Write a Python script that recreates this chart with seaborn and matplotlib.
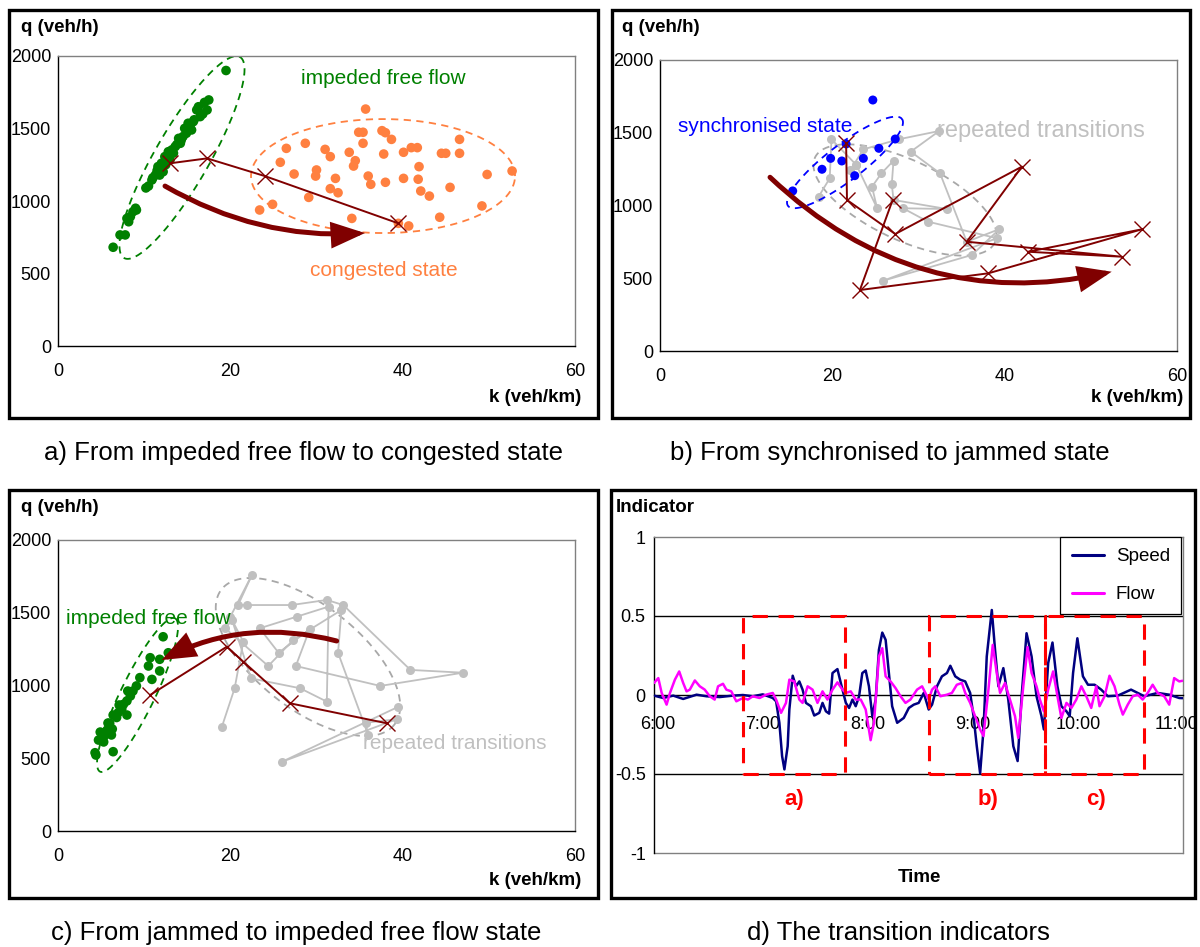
import numpy as np
import matplotlib
matplotlib.use("Agg")
import matplotlib.pyplot as plt
import seaborn as sns
from matplotlib.patches import Rectangle, FancyArrowPatch, ArrowStyle
from matplotlib.lines import Line2D
from matplotlib.transforms import ScaledTranslation

# ------------------------------------------------------------------ data
# panel a : impeded free flow -> congested
a_free_k = [19.5, 17.5, 17.3, 16.1, 16.5, 15.7, 15.1, 14.7, 15.5, 14.9,
            14.5, 14.0, 14.2, 13.6, 13.2, 12.8, 12.4, 13.0, 12.0, 11.6,
            12.2, 11.3, 11.8, 10.9, 10.5, 9.1, 8.7, 8.4, 8.2, 7.8,
            7.2, 6.4, 11.0, 11.5, 12.5, 12.9, 13.4, 13.8, 14.3, 15.3,
            15.8, 16.8, 16.3, 17.0, 10.2, 9.0, 8.0]
a_free_q = [1900, 1697, 1628, 1628, 1582, 1547, 1536, 1501, 1490, 1467,
            1444, 1432, 1398, 1375, 1352, 1340, 1306, 1283, 1260, 1237,
            1202, 1179, 1179, 1145, 1103, 938, 926, 892, 857, 766,
            766, 681, 1160, 1210, 1250, 1300, 1330, 1390, 1420, 1510,
            1560, 1600, 1650, 1680, 1090, 950, 880]
a_cong_k = [35.7, 34.9, 35.4, 37.6, 38.0, 38.7, 35.4, 46.6, 26.5, 28.7,
            31.0, 31.6, 33.8, 34.5, 34.3, 37.8, 40.1, 41.0, 41.7, 44.5,
            45.0, 46.6, 25.8, 27.4, 30.0, 29.9, 32.2, 36.0, 36.3, 38.0,
            40.1, 41.9, 41.8, 42.1, 43.1, 45.5, 49.8, 52.7, 31.6, 32.5,
            29.1, 24.9, 23.4, 34.1, 39.5, 40.7, 44.3, 49.2]
a_cong_q = [1634, 1474, 1474, 1485, 1471, 1425, 1398, 1425, 1363, 1398,
            1356, 1306, 1336, 1278, 1241, 1324, 1336, 1368, 1368, 1329,
            1329, 1329, 1267, 1186, 1214, 1172, 1156, 1172, 1115, 1129,
            1156, 1237, 1150, 1069, 1034, 1094, 1183, 1207, 1085, 1057,
            1025, 977, 938, 880, 846, 828, 888, 966]
a_trans_k = [13.0, 17.3, 24.0, 39.5]
a_trans_q = [1260, 1294, 1172, 846]

# panel b : synchronised -> jammed
b_sync_k = [24.7, 21.6, 19.8, 21.1, 18.8, 23.6, 25.4, 27.3, 22.6, 15.4]
b_sync_q = [1725, 1423, 1324, 1306, 1249, 1324, 1393, 1457, 1205, 1100]
b_rep_k = [18.4, 19.7, 19.9, 22.8, 22.1, 23.6, 27.7, 32.4, 29.1, 32.5,
           35.6, 39.4, 36.2, 25.9, 39.1, 31.1, 28.2, 33.3, 27.1, 26.9,
           27.1, 25.7, 24.6, 25.2, 22.8]
b_rep_q = [1060, 1187, 1455, 1278, 1244, 1386, 1455, 1512, 1370, 1221,
           751, 838, 660, 483, 775, 889, 981, 976, 1038, 1148,
           1308, 1221, 1129, 981, 1278]
b_trans_k = [21.6, 21.7, 27.3, 42.0, 35.6, 53.6, 42.7, 55.9, 38.1, 23.2, 27.0]
b_trans_q = [1430, 1038, 804, 1267, 751, 648, 682, 836, 534, 419, 1038]

# panel c : jammed -> impeded free flow
c_free_k = [12.2, 12.8, 11.8, 10.7, 10.5, 11.8, 10.9, 9.5, 9.1, 8.7,
            8.4, 8.0, 7.6, 7.4, 7.0, 6.8, 6.4, 6.0, 5.7, 5.3,
            4.7, 6.2, 6.4, 4.3, 4.4, 8.0, 8.1, 7.1, 5.8, 4.9,
            5.3, 6.3]
c_free_q = [1335, 1225, 1180, 1191, 1134, 1100, 1042, 1054, 997, 962,
            928, 894, 871, 838, 814, 780, 797, 740, 694, 648,
            625, 660, 545, 538, 522, 797, 962, 866, 742, 680,
            612, 701]
c_rep_k = [19.0, 20.5, 21.5, 20.0, 22.5, 20.9, 21.9, 27.1, 31.2, 33.1,
           40.9, 47.0, 37.4, 27.6, 29.2, 25.6, 23.4, 27.7, 31.4, 31.2,
           28.1, 22.4, 20.2, 19.4, 24.4, 27.3, 32.9, 32.5, 36.0, 35.7,
           39.3, 26.0, 39.5]
c_rep_q = [713, 981, 1301, 1473, 1759, 1553, 1553, 1553, 1588, 1553,
           1107, 1088, 997, 1134, 1386, 1225, 1393, 1473, 1542, 889,
           981, 1049, 1450, 1393, 1134, 1313, 1519, 1225, 660, 744,
           768, 476, 854]
c_trans_k = [38.2, 26.9, 21.5, 19.6, 10.7]
c_trans_q = [740, 878, 1164, 1267, 935]

# panel d : transition indicators (time in hours)
time_ticks = [6, 7, 8, 9, 10, 11]
time_labels = ["6:00", "7:00", "8:00", "9:00", "10:00", "11:00"]
ind_ticks = [-1, -0.5, 0, 0.5, 1]
ind_labels = ["-1", "-0.5", "0", "0.5", "1"]
speed_t = [5.962, 6.050, 6.145, 6.240, 6.367, 6.462, 6.588, 6.714, 6.809, 6.903,
           6.998, 7.093, 7.125, 7.156, 7.182, 7.204, 7.235, 7.251, 7.283, 7.314,
           7.346, 7.377, 7.409, 7.456, 7.488, 7.536, 7.567, 7.599, 7.630, 7.662,
           7.709, 7.741, 7.789, 7.820, 7.852, 7.883, 7.915, 7.946, 7.978, 8.009,
           8.041, 8.073, 8.104, 8.136, 8.168, 8.199, 8.230, 8.278, 8.341, 8.389,
           8.436, 8.483, 8.531, 8.578, 8.610, 8.657, 8.704, 8.752, 8.784, 8.831,
           8.878, 8.926, 8.973, 9.005, 9.036, 9.068, 9.100, 9.131, 9.179, 9.210,
           9.242, 9.289, 9.336, 9.384, 9.425, 9.463, 9.510, 9.558, 9.605, 9.652,
           9.675, 9.716, 9.757, 9.804, 9.842, 9.890, 9.921, 9.953, 9.994, 10.047,
           10.095, 10.158, 10.221, 10.284, 10.379, 10.505, 10.632, 10.758, 10.869, 10.964,
           10.995]
speed_v = [-0.004, -0.019, -0.004, -0.025, 0.002, -0.008, -0.013, -0.004, 0.000, -0.008,
           0.004, -0.019, -0.040, -0.176, -0.387, -0.471, -0.324, -0.092, 0.122, 0.055,
           0.086, 0.034, -0.050, -0.071, -0.130, -0.113, -0.050, -0.103, -0.118, 0.139,
           0.164, 0.076, -0.050, -0.082, -0.029, -0.071, -0.008, 0.139, 0.155, 0.055,
           -0.134, -0.029, 0.286, 0.395, 0.349, 0.139, -0.071, -0.176, -0.145, -0.082,
           -0.061, -0.050, 0.013, -0.092, -0.061, 0.055, 0.118, 0.139, 0.185, 0.118,
           0.097, 0.086, 0.013, -0.134, -0.324, -0.496, -0.218, 0.244, 0.538, 0.286,
           0.055, 0.170, -0.029, -0.324, -0.418, -0.008, 0.391, 0.244, -0.008, -0.134,
           -0.218, 0.202, 0.332, 0.055, -0.071, -0.103, -0.134, 0.139, 0.359, 0.118,
           0.065, 0.065, 0.034, -0.008, -0.004, 0.034, -0.008, 0.013, 0.002, -0.019,
           -0.020]
flow_t = [5.962, 6.003, 6.035, 6.082, 6.114, 6.161, 6.202, 6.240, 6.272, 6.303,
          6.351, 6.398, 6.445, 6.493, 6.540, 6.572, 6.619, 6.651, 6.698, 6.746,
          6.809, 6.856, 6.903, 6.967, 7.030, 7.093, 7.125, 7.172, 7.219, 7.251,
          7.298, 7.346, 7.377, 7.425, 7.472, 7.519, 7.567, 7.614, 7.662, 7.709,
          7.757, 7.789, 7.836, 7.883, 7.931, 7.978, 8.025, 8.057, 8.104, 8.136,
          8.168, 8.215, 8.262, 8.310, 8.357, 8.404, 8.467, 8.515, 8.578, 8.610,
          8.641, 8.689, 8.752, 8.799, 8.846, 8.894, 8.926, 8.973, 9.020, 9.068,
          9.100, 9.147, 9.188, 9.226, 9.258, 9.305, 9.352, 9.400, 9.431, 9.479,
          9.520, 9.558, 9.605, 9.637, 9.675, 9.716, 9.763, 9.810, 9.842, 9.890,
          9.937, 9.984, 10.032, 10.079, 10.126, 10.174, 10.205, 10.253, 10.300, 10.348,
          10.395, 10.427, 10.474, 10.521, 10.569, 10.616, 10.664, 10.711, 10.758, 10.821,
          10.869, 10.916, 10.964, 10.995]
flow_v = [0.076, 0.107, 0.013, -0.061, 0.013, 0.097, 0.149, 0.076, 0.023, 0.034,
          0.092, 0.055, 0.034, -0.008, -0.029, 0.055, 0.071, 0.034, 0.023, -0.040,
          -0.019, -0.029, -0.008, -0.019, 0.002, 0.013, -0.029, -0.113, -0.050, 0.097,
          0.086, -0.029, -0.050, 0.055, 0.034, -0.050, 0.023, -0.029, 0.034, 0.080,
          0.034, 0.013, 0.023, -0.029, -0.029, -0.092, -0.286, -0.176, 0.244, 0.296,
          0.118, 0.086, 0.044, -0.008, -0.050, -0.029, 0.034, 0.055, -0.029, 0.034,
          0.055, -0.008, 0.002, 0.013, 0.065, 0.076, 0.013, -0.050, -0.134, -0.218,
          -0.260, 0.034, 0.317, 0.139, 0.013, 0.076, -0.029, -0.134, -0.271, 0.055,
          0.303, 0.139, 0.055, -0.029, -0.103, 0.034, 0.149, -0.029, -0.145, -0.050,
          -0.082, -0.029, 0.055, -0.008, -0.082, 0.055, -0.071, -0.008, 0.122, 0.055,
          -0.061, -0.124, -0.061, -0.008, 0.002, -0.029, 0.013, 0.065, 0.013, -0.008,
          -0.061, 0.107, 0.086, 0.090]
box_starts = [6.81, 8.585, 9.685]
box_ends = [7.782, 9.685, 10.632]
box_labels = ["a)", "b)", "c)"]
box_label_t = [7.30, 9.147, 10.17]

# ------------------------------------------------------------------ style
sns.set_theme(style="white")
plt.rcParams["font.family"] = ["Liberation Sans", "DejaVu Sans"]
plt.rcParams["axes.unicode_minus"] = False
plt.rcParams["text.color"] = "black"
plt.rcParams["axes.labelcolor"] = "black"
plt.rcParams["xtick.color"] = "black"
plt.rcParams["ytick.color"] = "black"

W, H = 1200, 947
fig = plt.figure(figsize=(W / 100, H / 100), dpi=100)
fig.patch.set_facecolor("white")

MAROON = "#800000"
GREEN = "#008000"
ORANGE = "#FF8040"
BLUE = "#0000FF"
LGRAY = "#C0C0C0"
EGRAY = "#808080"


def px_axes(l, t, r, b):
    return fig.add_axes([l / W, 1 - b / H, (r - l) / W, (b - t) / H])


def ftext(x, y, s, **kw):
    fig.text(x / W, 1 - y / H, s, **kw)


def frame(x0, y0, x1, y1):
    fig.add_artist(Rectangle((x0 / W, 1 - y1 / H), (x1 - x0) / W, (y1 - y0) / H,
                             transform=fig.transFigure, fill=False,
                             lw=2.4, ec="black"))


def ellipse(ax, c, u, v, color, dashes=(4, 3)):
    t = np.linspace(0, 2 * np.pi, 300)
    xs = c[0] + np.cos(t) * u[0] + np.sin(t) * v[0]
    ys = c[1] + np.cos(t) * u[1] + np.sin(t) * v[1]
    ax.plot(xs, ys, color=color, lw=1.3, ls=(0, dashes), zorder=2)


def big_arrow(ax, start, end, rad):
    arr = FancyArrowPatch(start, end,
                          arrowstyle=ArrowStyle("-|>", head_length=18, head_width=7),
                          connectionstyle=f"arc3,rad={rad}", mutation_scale=1,
                          lw=3.6, color=MAROON, shrinkA=0, shrinkB=0, zorder=6,
                          joinstyle="miter")
    ax.add_patch(arr)


def kq_axes(ax):
    ax.set_xlim(0, 60)
    ax.set_ylim(0, 2000)
    ax.set_xticks([0, 20, 40, 60])
    ax.set_yticks([0, 500, 1000, 1500, 2000])
    ax.set_xlabel("")
    ax.set_ylabel("")
    for s in ["top", "right"]:
        ax.spines[s].set_color(EGRAY)
        ax.spines[s].set_linewidth(1.0)
    for s in ["left", "bottom"]:
        ax.spines[s].set_color("black")
        ax.spines[s].set_linewidth(1.0)
    ax.tick_params(axis="both", direction="out", length=4, width=1,
                   color="black", labelsize=13, labelcolor="black")
    ax.tick_params(axis="x", pad=8)
    ax.tick_params(axis="y", pad=1)
    ax.grid(False)
    ax.set_facecolor("white")


def dots(ax, k, q, color, size=48):
    sns.scatterplot(x=k, y=q, ax=ax, color=color, s=size, edgecolor="none",
                    linewidth=0, zorder=3, legend=False)


def path(ax, k, q, color, marker, ms, lw=1.2, z=4, mew=0):
    sns.lineplot(x=k, y=q, ax=ax, sort=False, estimator=None, color=color,
                 lw=lw, marker=marker, markersize=ms, markeredgewidth=mew,
                 markeredgecolor=color, zorder=z, legend=False)


# ------------------------------------------------------------------ panel a
ax_a = px_axes(58, 56, 575, 346)
ellipse(ax_a, (14.39, 1300), (6.73, 693), (2.72, -93), GREEN)
ellipse(ax_a, (37.72, 1172), (15.32, 0), (0, 393), ORANGE)
dots(ax_a, a_free_k, a_free_q, GREEN)
dots(ax_a, a_cong_k, a_cong_q, ORANGE)
path(ax_a, a_trans_k, a_trans_q, MAROON, "x", 11, lw=1.4, z=5, mew=1.0)
big_arrow(ax_a, (12.42, 1103), (35.63, 779), 0.15)
kq_axes(ax_a)

# ------------------------------------------------------------------ panel b
ax_b = px_axes(660, 60, 1177, 351)
ellipse(ax_b, (28.43, 1038), (10.44, -292), (-1.97, -247), "#A8A8A8")
path(ax_b, b_rep_k, b_rep_q, LGRAY, "o", 6.5, lw=1.3, z=2)
ellipse(ax_b, (21.47, 1296), (6.61, 299), (1.27, -98), BLUE)
dots(ax_b, b_sync_k, b_sync_q, BLUE, size=42)
path(ax_b, b_trans_k, b_trans_q, MAROON, "x", 11, lw=1.4, z=5, mew=1.0)
big_arrow(ax_b, (12.77, 1194), (52.42, 545), 0.265)
kq_axes(ax_b)

# ------------------------------------------------------------------ panel c
ax_c = px_axes(58, 540, 575, 831)
ellipse(ax_c, (29.01, 1196), (10.04, -464), (-3.71, -282), "#A8A8A8")
path(ax_c, c_rep_k, c_rep_q, LGRAY, "o", 6.5, lw=1.3, z=2)
ellipse(ax_c, (9.23, 935), (4.35, 527), (1.78, -51.5), GREEN)
dots(ax_c, c_free_k, c_free_q, GREEN)
path(ax_c, c_trans_k, c_trans_q, MAROON, "x", 11, lw=1.4, z=5, mew=1.0)
big_arrow(ax_c, (32.34, 1306), (12.03, 1175), 0.19)
kq_axes(ax_c)

# ------------------------------------------------------------------ panel d
ax_d = px_axes(654, 537, 1183, 853)
ax_d.set_xlim(5.962, 11.0)
ax_d.set_ylim(-1, 1)
for y in [0.5, -0.5]:
    ax_d.axhline(y, color="black", lw=1.0, zorder=1)
ax_d.axhline(-1, color=EGRAY, lw=1.0, zorder=1, clip_on=False)
sns.lineplot(x=speed_t, y=speed_v, ax=ax_d, color="#000080", lw=1.8,
             sort=False, estimator=None, zorder=4, legend=False)
sns.lineplot(x=flow_t, y=flow_v, ax=ax_d, color="#FF00FF", lw=1.8,
             sort=False, estimator=None, zorder=4, legend=False)
for x0, x1 in zip(box_starts, box_ends):
    ax_d.add_patch(Rectangle((x0, -0.5), x1 - x0, 1.0, fill=False, ec="#FF0000",
                             lw=2.2, ls=(0, (5, 3.5)), zorder=5))
for t, lab in zip(box_label_t, box_labels):
    ax_d.text(t, -0.66, lab, color="#FF0000", fontsize=16, fontweight="bold",
              ha="center", va="center")
ax_d.spines["bottom"].set_position(("data", 0))
ax_d.spines["bottom"].set_color("black")
ax_d.spines["left"].set_color("black")
for s in ["top", "right"]:
    ax_d.spines[s].set_color(EGRAY)
for s in ax_d.spines.values():
    s.set_linewidth(1.0)
ax_d.set_xticks(time_ticks)
ax_d.set_xticklabels(time_labels)
ax_d.set_yticks(ind_ticks)
ax_d.set_yticklabels(ind_labels)
ax_d.set_xlabel("")
ax_d.set_ylabel("")
ax_d.grid(False)
ax_d.tick_params(axis="both", direction="out", length=4, width=1, color="black",
                 labelsize=13, labelcolor="black")
ax_d.tick_params(axis="x", pad=11)
ax_d.tick_params(axis="y", pad=2)
lbls = ax_d.get_xticklabels()
lbls[-1].set_transform(lbls[-1].get_transform() +
                       ScaledTranslation(-0.07, 0, fig.dpi_scale_trans))
handles = [Line2D([], [], color="#000080", lw=2.2),
           Line2D([], [], color="#FF00FF", lw=2.2)]
leg = ax_d.legend(handles, ["Speed", "Flow"], loc="upper right",
                  bbox_to_anchor=(1181 / W, 1 - 537 / H),
                  bbox_transform=fig.transFigure, frameon=True, fancybox=False,
                  edgecolor="black", framealpha=1, borderaxespad=0,
                  fontsize=13.5, handlelength=1.75, labelspacing=1.1,
                  borderpad=0.6, handletextpad=0.6)
leg.get_frame().set_linewidth(0.9)
leg.set_zorder(10)

# ------------------------------------------------------------------ texts
ftext(383, 78, "impeded free flow", color=GREEN, fontsize=15, ha="center", va="center")
ftext(384, 271, "congested state", color=ORANGE, fontsize=15, ha="center", va="center")
ftext(765, 127, "synchronised state", color=BLUE, fontsize=15, ha="center", va="center")
ftext(1041, 131, "repeated transitions", color=LGRAY, fontsize=17, ha="center", va="center")
ftext(148, 618, "impeded free flow", color=GREEN, fontsize=15, ha="center", va="center")
ftext(455, 743, "repeated transitions", color=LGRAY, fontsize=15, ha="center", va="center")

for (x, y) in [(21, 27), (622, 27), (21, 507)]:
    ftext(x, y, "q (veh/h)", fontsize=13.5, fontweight="bold", ha="left", va="center")
for (x, y) in [(581, 397), (1183, 397), (581, 880)]:
    ftext(x, y, "k (veh/km)", fontsize=13.5, fontweight="bold", ha="right", va="center")
ftext(616, 507, "Indicator", fontsize=13.5, fontweight="bold", ha="left", va="center")
ftext(919, 877, "Time", fontsize=13.5, fontweight="bold", ha="center", va="center")

ftext(304, 453, "a) From impeded free flow to congested state", fontsize=18.5,
      ha="center", va="center")
ftext(890, 453, "b) From synchronised to jammed state", fontsize=18.5,
      ha="center", va="center")
ftext(296, 933, "c) From jammed to impeded free flow state", fontsize=18.5,
      ha="center", va="center")
ftext(898, 933, "d) The transition indicators", fontsize=18.5,
      ha="center", va="center")

frame(9, 10, 598, 418)
frame(612, 10, 1190, 418)
frame(9, 490, 598, 898)
frame(611, 490, 1195, 898)

fig.savefig("out.png", dpi=100, facecolor="white")
